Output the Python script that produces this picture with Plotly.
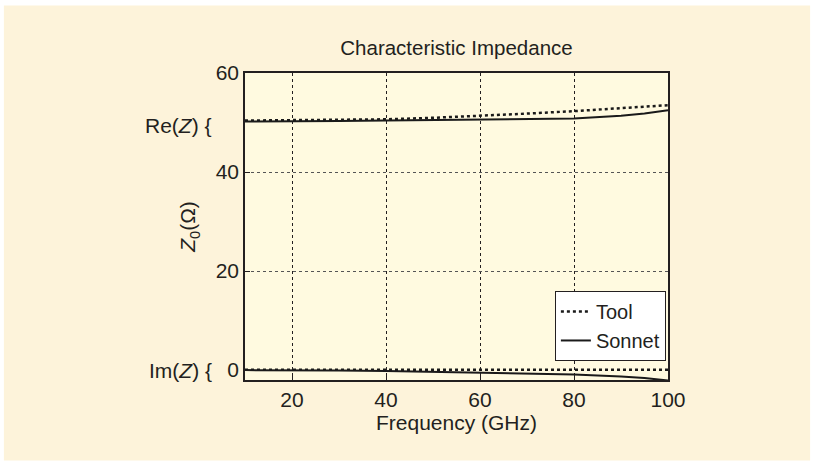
import plotly.graph_objects as go

freq = [10, 20, 30, 40, 50, 60, 70, 80, 90, 95, 100]
tool_re = [50.4, 50.45, 50.55, 50.65, 50.95, 51.3, 51.8, 52.3, 52.85, 53.15, 53.5]
sonnet_re = [50.2, 50.2, 50.3, 50.4, 50.5, 50.6, 50.6, 50.8, 51.35, 51.8, 52.5]
tool_im = [0.05, 0.05, 0.05, 0.05, 0.05, 0.05, 0.05, 0.05, 0.05, 0.05, 0.05]
sonnet_im = [0.0, 0.0, -0.1, -0.2, -0.4, -0.5, -0.7, -0.9, -1.3, -1.6, -2.1]

x_ticks = [20, 40, 60, 80, 100]
y_ticks = [0, 20, 40, 60]

FONT = "Liberation Sans, Arial, sans-serif"
TXT = "#231f20"

fig = go.Figure()
fig.add_trace(go.Scatter(x=freq, y=tool_re, mode="lines", name="Tool",
                         line=dict(color="#1a1a1a", width=2.5, dash="dot")))
fig.add_trace(go.Scatter(x=freq, y=sonnet_re, mode="lines", name="Sonnet",
                         line=dict(color="#1a1a1a", width=2)))
fig.add_trace(go.Scatter(x=freq, y=tool_im, mode="lines", showlegend=False,
                         line=dict(color="#1a1a1a", width=2.5, dash="dot")))
fig.add_trace(go.Scatter(x=freq, y=sonnet_im, mode="lines", showlegend=False,
                         line=dict(color="#1a1a1a", width=2)))

fig.update_layout(
    width=814, height=466,
    margin=dict(l=245, r=146, t=73, b=86),
    paper_bgcolor="white",
    plot_bgcolor="rgba(0,0,0,0)",
    font=dict(family=FONT, size=21, color=TXT),
    title=dict(text="Characteristic Impedance", x=0.5, xanchor="center",
               xref="paper", y=0.897, yanchor="middle",
               font=dict(size=20.5, color=TXT)),
    showlegend=True,
    legend=dict(x=0.995, xanchor="right", y=0.29, yanchor="top",
                bgcolor="white", bordercolor=TXT, borderwidth=1,
                font=dict(size=20), tracegroupgap=0,
                itemwidth=30),
    shapes=[
        dict(type="rect", xref="paper", yref="paper", layer="below",
             x0=-0.570, x1=1.336, y0=-0.262, y1=1.220,
             fillcolor="#FDF3DA", line=dict(width=0)),
        dict(type="rect", xref="paper", yref="paper", layer="below",
             x0=0, x1=1, y0=0, y1=1,
             fillcolor="#FFFAE0", line=dict(width=0)),
    ],
    annotations=[
        dict(text="Re(<i>Z</i>) {", xref="paper", yref="y", x=-0.073, y=49.3,
             xanchor="right", yanchor="middle", showarrow=False,
             font=dict(size=21)),
        dict(text="Im(<i>Z</i>) {", xref="paper", yref="y", x=-0.073, y=0,
             xanchor="right", yanchor="middle", showarrow=False,
             font=dict(size=21)),
    ],
)

fig.update_xaxes(
    range=[10, 100], tickvals=x_ticks, ticktext=[str(v) for v in x_ticks],
    ticks="inside", ticklen=5, tickcolor=TXT,
    showline=True, linecolor=TXT, linewidth=1.5, mirror=True,
    showgrid=True, gridcolor=TXT, gridwidth=1, griddash="dot",
    zeroline=False,
    title=dict(text="Frequency (GHz)", standoff=2, font=dict(size=21)),
)
fig.update_yaxes(
    range=[-2, 60], tickvals=y_ticks, ticktext=[str(v) for v in y_ticks],
    ticks="inside", ticklen=5, tickcolor=TXT,
    showline=True, linecolor=TXT, linewidth=1.5, mirror=True,
    showgrid=True, gridcolor="#555555", gridwidth=1, griddash="dot",
    zeroline=False,
    title=dict(text="<i>Z</i><sub>0</sub>(Ω)", standoff=14, font=dict(size=21)),
)

fig.write_html("out.html")
